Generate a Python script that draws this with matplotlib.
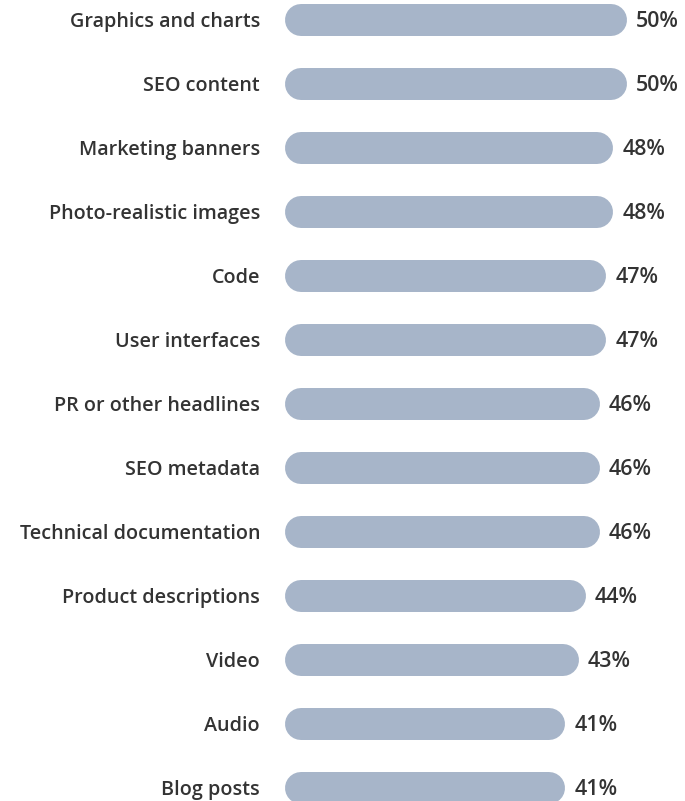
import matplotlib
matplotlib.use("Agg")
import matplotlib.pyplot as plt

categories = [
    "Graphics and charts", "SEO content", "Marketing banners",
    "Photo-realistic images", "Code", "User interfaces",
    "PR or other headlines", "SEO metadata", "Technical documentation",
    "Product descriptions", "Video", "Audio", "Blog posts",
]
values = [50, 50, 48, 48, 47, 47, 46, 46, 46, 44, 43, 41, 41]

W, H, DPI = 685, 801, 100
BAR_COLOR = "#a7b5c9"
TEXT_COLOR = "#333333"
bar_px = 32            # bar thickness in pixels
px_per_pct = 6.84      # horizontal scale
x0_px = 285            # left edge of bars
row_px = 64            # row pitch
first_px = 20          # centre of first row from top
base_px = 7            # text baseline below row centre

plt.rcParams["font.family"] = ["Open Sans", "DejaVu Sans"]

fig = plt.figure(figsize=(W / DPI, H / DPI), dpi=DPI)
ax = fig.add_axes([x0_px / W, 0, 1 - x0_px / W, 1])
ax.set_xlim(0, (W - x0_px) / px_per_pct)
ax.set_ylim((H - first_px) / row_px, -first_px / row_px)
ax.axis("off")

lw_pt = bar_px * 72 / DPI
cap = (bar_px / 2) / px_per_pct
yb = base_px / row_px
for i, (cat, v) in enumerate(zip(categories, values)):
    ax.plot([cap, v - cap], [i, i], color=BAR_COLOR, lw=lw_pt,
            solid_capstyle="round", clip_on=False)
    ax.text(v + 9 / px_per_pct, i + yb, f"{v}%", ha="left", va="baseline",
            fontsize=15.5, fontweight="semibold", color=TEXT_COLOR)
    ax.text(-25 / px_per_pct, i + yb, cat, ha="right", va="baseline",
            fontsize=14.2, fontweight="semibold", color=TEXT_COLOR,
            clip_on=False)

fig.savefig("out.png", dpi=DPI)
